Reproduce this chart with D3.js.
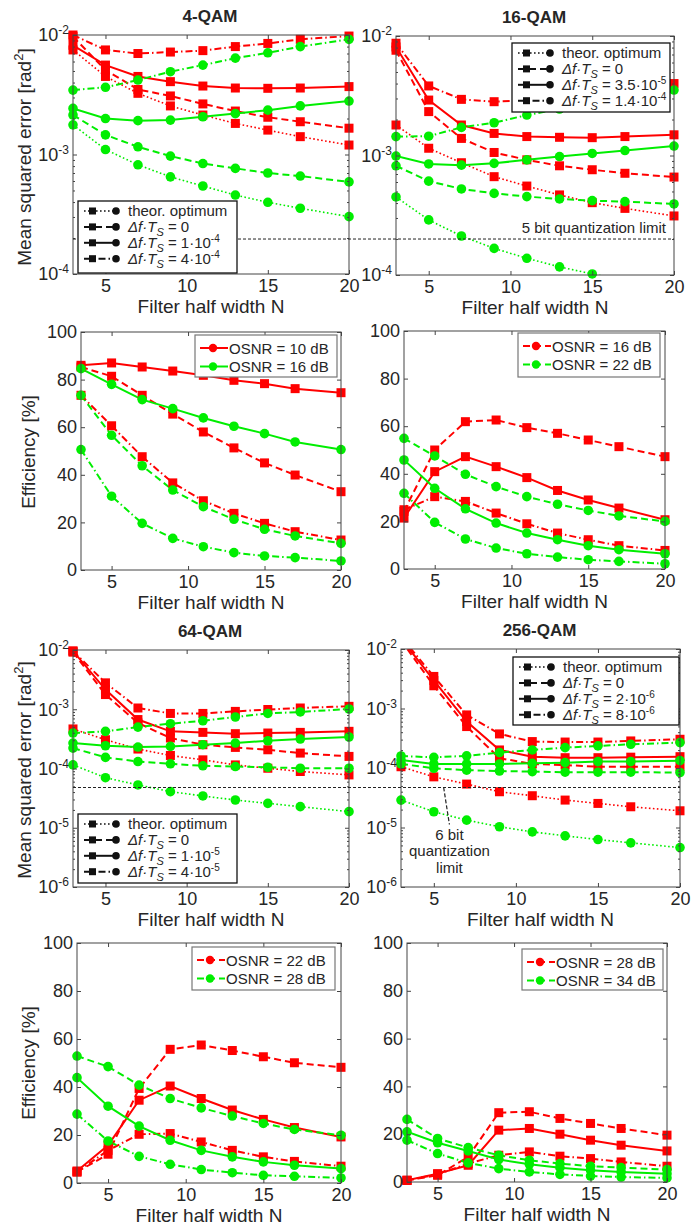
<!DOCTYPE html>
<html>
<head>
<meta charset="utf-8">
<script src="https://cdn.jsdelivr.net/npm/d3@7"></script>
<style>
body { margin: 0; background: #fff; }
svg { display: block; }
text { font-family: "Liberation Sans", Arial, sans-serif; fill: #262626; }
</style>
</head>
<body>
<svg id="fig" width="691" height="1229"></svg>
<script>
var nVals = [3, 5, 7, 9, 11, 13, 15, 17, 20];

// mean squared error, 4-QAM
var qam4RedOpt = [7.5e-3, 4.5e-3, 3.25e-3, 2.55e-3, 2.14e-3, 1.82e-3, 1.6e-3, 1.41e-3, 1.2e-3];
var qam4RedZero = [9.7e-3, 5.1e-3, 3.5e-3, 3.09e-3, 2.65e-3, 2.31e-3, 2.05e-3, 1.88e-3, 1.66e-3];
var qam4RedLow = [8.2e-3, 5.6e-3, 4.5e-3, 4.07e-3, 3.74e-3, 3.6e-3, 3.58e-3, 3.6e-3, 3.7e-3];
var qam4RedHigh = [1.0e-2, 7.5e-3, 7.0e-3, 7.2e-3, 7.4e-3, 8.0e-3, 8.5e-3, 9.2e-3, 9.8e-3];
var qam4GreenOpt = [1.77e-3, 1.1e-3, 8.2e-4, 6.5e-4, 5.45e-4, 4.58e-4, 3.98e-4, 3.55e-4, 3.02e-4];
var qam4GreenZero = [2.14e-3, 1.46e-3, 1.16e-3, 9.7e-4, 8.4e-4, 7.65e-4, 7.0e-4, 6.6e-4, 5.9e-4];
var qam4GreenLow = [2.43e-3, 2.0e-3, 1.92e-3, 1.94e-3, 2.07e-3, 2.2e-3, 2.35e-3, 2.55e-3, 2.8e-3];
var qam4GreenHigh = [3.46e-3, 3.65e-3, 4.2e-3, 4.93e-3, 5.6e-3, 6.4e-3, 7.1e-3, 8.0e-3, 9.2e-3];

// mean squared error, 16-QAM
var qam16RedOpt = [1.8e-3, 1.15e-3, 8.7e-4, 6.65e-4, 5.55e-4, 4.68e-4, 4.03e-4, 3.61e-4, 3.12e-4];
var qam16RedZero = [7.6e-3, 2.33e-3, 1.39e-3, 1.06e-3, 9.2e-4, 8.2e-4, 7.6e-4, 7.1e-4, 6.6e-4];
var qam16RedLow = [8.1e-3, 2.91e-3, 1.8e-3, 1.53e-3, 1.44e-3, 1.42e-3, 1.41e-3, 1.44e-3, 1.49e-3];
var qam16RedHigh = [8.7e-3, 3.82e-3, 2.95e-3, 2.82e-3, 2.9e-3, 3.1e-3, 3.35e-3, 3.6e-3, 4.0e-3];
var qam16GreenOpt = [4.5e-4, 2.89e-4, 2.12e-4, 1.67e-4, 1.38e-4, 1.17e-4, 1.02e-4, 9.0e-5, 7.6e-5];
var qam16GreenZero = [8.2e-4, 6.1e-4, 5.25e-4, 4.82e-4, 4.53e-4, 4.33e-4, 4.19e-4, 4.11e-4, 3.93e-4];
var qam16GreenLow = [9.9e-4, 8.5e-4, 8.3e-4, 8.6e-4, 9.2e-4, 9.8e-4, 1.04e-3, 1.1e-3, 1.2e-3];
var qam16GreenHigh = [1.44e-3, 1.45e-3, 1.72e-3, 1.88e-3, 2.18e-3, 2.45e-3, 2.7e-3, 3.0e-3, 3.53e-3];

// mean squared error, 64-QAM
var qam64RedOpt = [4.65e-4, 3.06e-4, 2.13e-4, 1.66e-4, 1.4e-4, 1.15e-4, 1.01e-4, 8.9e-5, 7.8e-5];
var qam64RedZero = [9.2e-3, 1.77e-3, 5.86e-4, 3.27e-4, 2.52e-4, 2.27e-4, 2.07e-4, 1.82e-4, 1.6e-4];
var qam64RedLow = [9.6e-3, 2.15e-3, 6.7e-4, 4.24e-4, 4.07e-4, 3.87e-4, 3.97e-4, 4.07e-4, 4.24e-4];
var qam64RedHigh = [9.6e-3, 2.79e-3, 1.05e-3, 8.5e-4, 8.5e-4, 9.2e-4, 9.9e-4, 1.05e-3, 1.12e-3];
var qam64GreenOpt = [1.15e-4, 7.0e-5, 5.28e-5, 4.07e-5, 3.44e-5, 2.94e-5, 2.58e-5, 2.27e-5, 1.87e-5];
var qam64GreenZero = [2.21e-4, 1.54e-4, 1.31e-4, 1.2e-4, 1.11e-4, 1.08e-4, 1.05e-4, 1.01e-4, 1.01e-4];
var qam64GreenLow = [2.69e-4, 2.42e-4, 2.3e-4, 2.36e-4, 2.52e-4, 2.69e-4, 2.94e-4, 3.14e-4, 3.4e-4];
var qam64GreenHigh = [3.97e-4, 4.24e-4, 5.0e-4, 5.7e-4, 6.4e-4, 7.4e-4, 8.5e-4, 9.0e-4, 1.01e-3];

// mean squared error, 256-QAM
var qam256RedOpt = [1.05e-4, 7.1e-5, 5.37e-5, 3.99e-5, 3.42e-5, 2.89e-5, 2.54e-5, 2.23e-5, 1.91e-5];
var qam256RedZero = [1.4e-2, 2.41e-3, 4.97e-4, 1.46e-4, 1.17e-4, 1.12e-4, 1.05e-4, 1.05e-4, 1.05e-4];
var qam256RedLow = [1.5e-2, 2.96e-3, 6.04e-4, 2.01e-4, 1.55e-4, 1.49e-4, 1.49e-4, 1.52e-4, 1.55e-4];
var qam256RedHigh = [1.6e-2, 3.46e-3, 7.8e-4, 3.74e-4, 2.78e-4, 2.73e-4, 2.73e-4, 2.85e-4, 3.04e-4];
var qam256GreenOpt = [2.89e-5, 1.84e-5, 1.33e-5, 1.03e-5, 8.45e-6, 7.24e-6, 6.28e-6, 5.52e-6, 4.6e-6];
var qam256GreenZero = [1.17e-4, 9.9e-5, 9.2e-5, 8.9e-5, 8.7e-5, 8.5e-5, 8.5e-5, 8.5e-5, 8.4e-5];
var qam256GreenLow = [1.36e-4, 1.17e-4, 1.17e-4, 1.17e-4, 1.2e-4, 1.23e-4, 1.28e-4, 1.28e-4, 1.33e-4];
var qam256GreenHigh = [1.59e-4, 1.51e-4, 1.6e-4, 1.81e-4, 2.01e-4, 2.2e-4, 2.35e-4, 2.5e-4, 2.67e-4];

// efficiency [%]
var eff4RedLow = [86, 87, 85.3, 83.6, 81.8, 79.7, 78.3, 76.2, 74.5];
var eff4RedZero = [85.3, 81.4, 73.4, 65.5, 58, 51.3, 45, 39.9, 32.9];
var eff4RedHigh = [73.4, 60.6, 47.6, 36.6, 29.1, 23.8, 19.6, 16.1, 12.6];
var eff4GreenLow = [84.6, 78, 71.6, 67.8, 63.9, 60.4, 57.3, 53.8, 50.6];
var eff4GreenZero = [73.4, 56.6, 43.8, 33.6, 26.6, 21.3, 17.1, 14.3, 11.2];
var eff4GreenHigh = [50.6, 31, 19.6, 13.3, 9.8, 7.3, 5.9, 5.2, 3.8];

var eff16RedZero = [24.2, 50, 61.9, 62.6, 59.4, 57, 54.2, 51.4, 47.2];
var eff16RedLow = [21.4, 40.9, 47.2, 43, 38.4, 33, 29, 25.6, 20.7];
var eff16RedHigh = [24.9, 30.4, 28.4, 23.5, 19, 15.1, 12.3, 9.8, 7.8];
var eff16GreenZero = [54.9, 47.5, 39.8, 34.6, 30.4, 27.2, 24.6, 22.3, 20];
var eff16GreenLow = [45.8, 33.9, 25.3, 19.3, 15.1, 12.3, 9.8, 8.1, 6.4];
var eff16GreenHigh = [31.8, 19.6, 12.6, 8.8, 6.4, 5, 3.9, 3.2, 2.2];

var eff64RedZero = [4.6, 12, 39.4, 55.7, 57.5, 55.2, 52.6, 50.1, 48.2];
var eff64RedLow = [5, 15.7, 34.5, 40.4, 35.2, 30.4, 26.5, 23.1, 19.2];
var eff64RedHigh = [4.6, 13.6, 20.3, 20.6, 17.1, 13.6, 10.9, 9, 7];
var eff64GreenZero = [52.9, 48.5, 40.8, 35.2, 31.3, 27.9, 24.8, 22.3, 19.9];
var eff64GreenLow = [43.9, 32, 23.7, 17.8, 13.6, 10.9, 8.8, 7.4, 6];
var eff64GreenHigh = [28.7, 17.5, 11.1, 7.8, 5.6, 4.3, 3.2, 2.8, 2.1];

var eff256RedZero = [0.7, 2.8, 10.5, 29, 29.4, 26.6, 24.5, 22.4, 19.6];
var eff256RedLow = [0.7, 3.5, 7, 21.7, 22.4, 20, 17.5, 15.4, 13];
var eff256RedHigh = [0.7, 3.2, 7.7, 11.2, 12.6, 10.8, 9.8, 8.4, 6.6];
var eff256GreenZero = [26.2, 18.2, 14.4, 11.2, 9.1, 7.7, 6.6, 6, 5.2];
var eff256GreenLow = [21, 16.4, 13, 9.4, 7.4, 6, 4.9, 4.2, 3.5];
var eff256GreenHigh = [17.5, 11.9, 8, 5.6, 4.2, 3.2, 2.5, 2.1, 1.7];

// tick values and labels
var xTicks = [5, 10, 15, 20];
var effTicks = [0, 20, 40, 60, 80, 100];
var mseTicks3 = [1e-2, 1e-3, 1e-4];
var mseTicks5 = [1e-2, 1e-3, 1e-4, 1e-5, 1e-6];
var quant5bit = 2e-4;
var quant6bit = 4.7e-5;

var qam4Legend = [["theor. optimum"], ["0"], ["1·10", "-4"], ["4·10", "-4"]];
var qam16Legend = [["theor. optimum"], ["0"], ["3.5·10", "-5"], ["1.4·10", "-4"]];
var qam64Legend = [["theor. optimum"], ["0"], ["1·10", "-5"], ["4·10", "-5"]];
var qam256Legend = [["theor. optimum"], ["0"], ["2·10", "-6"], ["8·10", "-6"]];
var eff4Legend = ["OSNR = 10 dB", "OSNR = 16 dB"];
var eff16Legend = ["OSNR = 16 dB", "OSNR = 22 dB"];
var eff64Legend = ["OSNR = 22 dB", "OSNR = 28 dB"];
var eff256Legend = ["OSNR = 28 dB", "OSNR = 34 dB"];

var RED = "#ff0000";
var GREEN = "#00ee00";

var styles = {
  opt:  { dash: "1.6,2.4", w: 1.6 },
  zero: { dash: "7,4", w: 2 },
  low:  { dash: null, w: 2 },
  high: { dash: "7,3,1.5,3", w: 2 }
};

var fig = d3.select("#fig");
var clipCount = 0;

function makePanel(b, logY, yDomain) {
  var x = d3.scaleLinear().domain([3, 20]).range([b.l, b.r]);
  var y = logY ? d3.scaleLog().domain(yDomain).range([b.b, b.t])
               : d3.scaleLinear().domain(yDomain).range([b.b, b.t]);
  clipCount += 1;
  var id = "clip" + clipCount;
  fig.append("clipPath").attr("id", id)
    .append("rect")
    .attr("x", b.l).attr("y", b.t)
    .attr("width", b.r - b.l).attr("height", b.b - b.t);
  var g = fig.append("g");
  return { x: x, y: y, b: b, g: g, clip: id, logY: logY };
}

function drawAxes(p, yTicks) {
  var b = p.b;
  var g = p.g;

  g.append("g").attr("transform", "translate(0," + b.b + ")")
    .call(d3.axisBottom(p.x).tickValues(xTicks).tickSizeInner(-4).tickSizeOuter(0).tickPadding(5));
  g.append("g").attr("transform", "translate(0," + b.t + ")")
    .call(d3.axisTop(p.x).tickValues(xTicks).tickSizeInner(-4).tickSizeOuter(0).tickFormat(""));

  var left = g.append("g").attr("transform", "translate(" + b.l + ",0)")
    .call(d3.axisLeft(p.y).tickValues(yTicks).tickSizeInner(-4).tickSizeOuter(0).tickPadding(4));
  g.append("g").attr("transform", "translate(" + b.r + ",0)")
    .call(d3.axisRight(p.y).tickValues(yTicks).tickSizeInner(-4).tickSizeOuter(0).tickFormat(""));

  if (p.logY) {
    var minor = [];
    var lo = Math.round(Math.log10(p.y.domain()[0]));
    var hi = Math.round(Math.log10(p.y.domain()[1]));
    for (var k = lo; k < hi; k++) {
      for (var m = 2; m < 10; m++) minor.push(m * Math.pow(10, k));
    }
    g.append("g").attr("transform", "translate(" + b.l + ",0)")
      .call(d3.axisLeft(p.y).tickValues(minor).tickSizeInner(-2).tickSizeOuter(0).tickFormat(""));
    g.append("g").attr("transform", "translate(" + b.r + ",0)")
      .call(d3.axisRight(p.y).tickValues(minor).tickSizeInner(-2).tickSizeOuter(0).tickFormat(""));

    left.selectAll(".tick text").each(function(d) {
      var t = d3.select(this);
      t.text("");
      t.append("tspan").text("10");
      t.append("tspan").attr("dy", "-0.6em").attr("font-size", "12px")
        .text(String(Math.round(Math.log10(d))));
    });
  }

  g.selectAll(".domain").remove();
  g.selectAll(".tick line").attr("stroke", "#444");
  g.selectAll(".tick text").attr("font-size", "18px").attr("fill", "#262626")
    .style("font-family", '"Liberation Sans", Arial, sans-serif');

  g.append("rect")
    .attr("x", b.l).attr("y", b.t)
    .attr("width", b.r - b.l).attr("height", b.b - b.t)
    .attr("fill", "none").attr("stroke", "#444").attr("stroke-width", 1);

  g.append("text")
    .attr("x", (b.l + b.r) / 2).attr("y", b.b + 39)
    .attr("text-anchor", "middle").attr("font-size", "19px")
    .text("Filter half width N");
}

function drawSeries(p, series) {
  var dom = p.y.domain();
  var line = d3.line()
    .x(function(d, i) { return p.x(nVals[i]); })
    .y(function(d) { return p.y(d); });
  var lines = p.g.append("g").attr("clip-path", "url(#" + p.clip + ")");
  var marks = p.g.append("g");

  series.forEach(function(s) {
    var st = styles[s.style];
    lines.append("path")
      .attr("d", line(s.v))
      .attr("fill", "none")
      .attr("stroke", s.color)
      .attr("stroke-width", st.w)
      .attr("stroke-dasharray", st.dash);

    var pts = s.v.map(function(v, i) { return { n: nVals[i], v: v }; })
      .filter(function(d) { return d.v >= dom[0] * 0.97 && d.v <= dom[1] * 1.03; });

    if (s.color == RED) {
      marks.selectAll(null).data(pts).enter().append("rect")
        .attr("x", function(d) { return p.x(d.n) - 4.5; })
        .attr("y", function(d) { return p.y(d.v) - 4.5; })
        .attr("width", 9).attr("height", 9)
        .attr("fill", s.color);
    } else {
      marks.selectAll(null).data(pts).enter().append("circle")
        .attr("cx", function(d) { return p.x(d.n); })
        .attr("cy", function(d) { return p.y(d.v); })
        .attr("r", 4.8)
        .attr("fill", s.color);
    }
  });
}

function mseSeries(ro, rz, rl, rh, go, gz, gl, gh) {
  return [
    { color: RED, style: "opt", v: ro },
    { color: RED, style: "zero", v: rz },
    { color: RED, style: "low", v: rl },
    { color: RED, style: "high", v: rh },
    { color: GREEN, style: "opt", v: go },
    { color: GREEN, style: "zero", v: gz },
    { color: GREEN, style: "low", v: gl },
    { color: GREEN, style: "high", v: gh }
  ];
}

function effSeries(rl, rz, rh, gl, gz, gh) {
  return [
    { color: RED, style: "low", v: rl },
    { color: RED, style: "zero", v: rz },
    { color: RED, style: "high", v: rh },
    { color: GREEN, style: "low", v: gl },
    { color: GREEN, style: "zero", v: gz },
    { color: GREEN, style: "high", v: gh }
  ];
}

function mseLegend(box, labels) {
  var g = fig.append("g");
  g.append("rect")
    .attr("x", box.x).attr("y", box.y).attr("width", box.w).attr("height", box.h)
    .attr("fill", "#fff").attr("stroke", "#111").attr("stroke-width", 1.3);
  var keys = ["opt", "zero", "low", "high"];
  keys.forEach(function(k, i) {
    var cy = box.y + 10 + i * 15.9;
    var st = styles[k];
    g.append("line")
      .attr("x1", box.x + 6).attr("x2", box.x + 38)
      .attr("y1", cy).attr("y2", cy)
      .attr("stroke", "#111").attr("stroke-width", st.w)
      .attr("stroke-dasharray", st.dash);
    g.append("rect")
      .attr("x", box.x + 11).attr("y", cy - 3.5).attr("width", 7).attr("height", 7)
      .attr("fill", "#111");
    g.append("circle")
      .attr("cx", box.x + 38).attr("cy", cy).attr("r", 3.8)
      .attr("fill", "#111");
    var t = g.append("text")
      .attr("x", box.x + 50).attr("y", cy + 5)
      .attr("font-size", "15px");
    var lab = labels[i];
    if (i == 0) {
      t.text(lab[0]);
    } else {
      t.append("tspan").attr("font-style", "italic").text("Δf·T");
      t.append("tspan").attr("font-style", "italic").attr("font-size", "11px").attr("dy", 4).text("S");
      t.append("tspan").attr("dy", -4).text(" = " + lab[0]);
      if (lab[1]) {
        t.append("tspan").attr("font-size", "10px").attr("dy", -6).text(lab[1]);
      }
    }
  });
}

function effLegend(box, labels, dashed) {
  var g = fig.append("g");
  g.append("rect")
    .attr("x", box.x).attr("y", box.y).attr("width", box.w).attr("height", box.h)
    .attr("fill", "#fff").attr("stroke", "#777").attr("stroke-width", 1.2);
  [RED, GREEN].forEach(function(c, i) {
    var cy = box.y + 13 + i * 18.5;
    g.append("line")
      .attr("x1", box.x + 5).attr("x2", box.x + 33)
      .attr("y1", cy).attr("y2", cy)
      .attr("stroke", c).attr("stroke-width", 2)
      .attr("stroke-dasharray", dashed ? "7,4" : null);
    g.append("circle")
      .attr("cx", box.x + 18).attr("cy", cy).attr("r", 4.2)
      .attr("fill", c);
    g.append("text")
      .attr("x", box.x + 34).attr("y", cy + 5.5)
      .attr("font-size", "15px")
      .text(labels[i]);
  });
}

function title(p, s) {
  fig.append("text")
    .attr("x", (p.b.l + p.b.r) / 2 - 1).attr("y", p.b.t - 13)
    .attr("text-anchor", "middle").attr("font-size", "17px").attr("font-weight", "bold")
    .text(s);
}

function yLabel(cx, cy, main, sup) {
  var t = fig.append("text")
    .attr("transform", "translate(" + cx + "," + cy + ") rotate(-90)")
    .attr("text-anchor", "middle").attr("font-size", "19px");
  t.append("tspan").text(main);
  if (sup) {
    t.append("tspan").attr("font-size", "13px").attr("dy", -8).text(sup);
    t.append("tspan").attr("dy", 8).text("]");
  }
}

// ---- panels ----
var p1 = makePanel({ l: 73, t: 35, r: 349, b: 274 }, true, [1e-4, 1e-2]);
var p2 = makePanel({ l: 396, t: 36, r: 674, b: 275 }, true, [1e-4, 1e-2]);
var p3 = makePanel({ l: 81, t: 332, r: 341, b: 570 }, false, [0, 100]);
var p4 = makePanel({ l: 404, t: 331, r: 665, b: 569 }, false, [0, 100]);
var p5 = makePanel({ l: 73, t: 650, r: 349, b: 887 }, true, [1e-6, 1e-2]);
var p6 = makePanel({ l: 401, t: 649, r: 680, b: 887 }, true, [1e-6, 1e-2]);
var p7 = makePanel({ l: 77, t: 943, r: 341, b: 1183 }, false, [0, 100]);
var p8 = makePanel({ l: 407, t: 943, r: 667, b: 1182 }, false, [0, 100]);

drawSeries(p1, mseSeries(qam4RedOpt, qam4RedZero, qam4RedLow, qam4RedHigh,
  qam4GreenOpt, qam4GreenZero, qam4GreenLow, qam4GreenHigh));
drawSeries(p2, mseSeries(qam16RedOpt, qam16RedZero, qam16RedLow, qam16RedHigh,
  qam16GreenOpt, qam16GreenZero, qam16GreenLow, qam16GreenHigh));
drawSeries(p5, mseSeries(qam64RedOpt, qam64RedZero, qam64RedLow, qam64RedHigh,
  qam64GreenOpt, qam64GreenZero, qam64GreenLow, qam64GreenHigh));
drawSeries(p6, mseSeries(qam256RedOpt, qam256RedZero, qam256RedLow, qam256RedHigh,
  qam256GreenOpt, qam256GreenZero, qam256GreenLow, qam256GreenHigh));

drawSeries(p3, effSeries(eff4RedLow, eff4RedZero, eff4RedHigh, eff4GreenLow, eff4GreenZero, eff4GreenHigh));
drawSeries(p4, effSeries(eff16RedLow, eff16RedZero, eff16RedHigh, eff16GreenLow, eff16GreenZero, eff16GreenHigh));
drawSeries(p7, effSeries(eff64RedLow, eff64RedZero, eff64RedHigh, eff64GreenLow, eff64GreenZero, eff64GreenHigh));
drawSeries(p8, effSeries(eff256RedLow, eff256RedZero, eff256RedHigh, eff256GreenLow, eff256GreenZero, eff256GreenHigh));

drawAxes(p1, mseTicks3);
drawAxes(p2, mseTicks3);
drawAxes(p3, effTicks);
drawAxes(p4, effTicks);
drawAxes(p5, mseTicks5);
drawAxes(p6, mseTicks5);
drawAxes(p7, effTicks);
drawAxes(p8, effTicks);

// quantization limits, spanning both panels of a row
var q5 = p2.y(quant5bit);
fig.append("line")
  .attr("x1", p1.b.l).attr("x2", p2.b.r).attr("y1", q5).attr("y2", q5)
  .attr("stroke", "#222").attr("stroke-width", 1).attr("stroke-dasharray", "3,2");
fig.append("text")
  .attr("x", p2.b.r - 8).attr("y", q5 - 6)
  .attr("text-anchor", "end").attr("font-size", "15px").attr("fill", "#222")
  .text("5 bit quantization limit");

var q6 = p6.y(quant6bit);
fig.append("line")
  .attr("x1", p5.b.l).attr("x2", p6.b.r).attr("y1", q6).attr("y2", q6)
  .attr("stroke", "#222").attr("stroke-width", 1).attr("stroke-dasharray", "3,2");
fig.append("line")
  .attr("x1", p6.x(5.6)).attr("x2", p6.x(5.95)).attr("y1", q6).attr("y2", q6 + 37)
  .attr("stroke", "#222").attr("stroke-width", 1.2).attr("stroke-dasharray", "4,2");
["6 bit", "quantization", "limit"].forEach(function(s, i) {
  fig.append("text")
    .attr("x", p6.x(5.95)).attr("y", q6 + 52 + i * 16.5)
    .attr("text-anchor", "middle").attr("font-size", "15px").attr("fill", "#222")
    .text(s);
});

// legends
mseLegend({ x: 78, y: 201, w: 159, h: 72 }, qam4Legend);
mseLegend({ x: 512, y: 43, w: 158, h: 69 }, qam16Legend);
mseLegend({ x: 78, y: 814, w: 159, h: 69 }, qam64Legend);
mseLegend({ x: 513, y: 657, w: 166, h: 68 }, qam256Legend);

effLegend({ x: 195, y: 335, w: 142, h: 42 }, eff4Legend, false);
effLegend({ x: 518, y: 333, w: 142, h: 44 }, eff16Legend, true);
effLegend({ x: 192, y: 947, w: 143, h: 43 }, eff64Legend, true);
effLegend({ x: 522, y: 949, w: 141, h: 41 }, eff256Legend, true);

// titles and axis labels
title(p1, "4-QAM");
title(p2, "16-QAM");
title(p5, "64-QAM");
title(p6, "256-QAM");

yLabel(31, 157, "Mean squared error [rad", "2");
yLabel(31, 770, "Mean squared error [rad", "2");
yLabel(35, 452, "Efficiency [%]");
yLabel(35, 1063, "Efficiency [%]");
</script>
</body>
</html>
